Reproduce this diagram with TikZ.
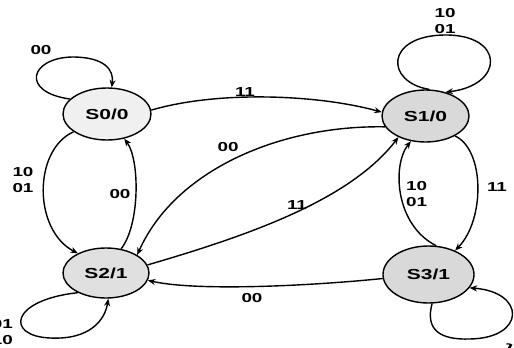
\documentclass[tikz,border=0pt]{standalone}
\usepackage{fontspec}
\setmainfont{Liberation Sans}
\newfontfamily\wfont[FakeStretch=1.45]{Liberation Sans}
\usetikzlibrary{shapes.geometric,arrows.meta}
\begin{document}
\begin{tikzpicture}[x=1pt,y=-1pt,
  state/.style={draw,ellipse,line width=1.4pt,inner sep=0pt,
    font=\wfont\fontsize{14.5}{16}\selectfont\bfseries},
  edge/.style={draw,line width=1.4pt,-{Stealth[length=7.5pt,width=6pt]}},
  lbl/.style={font=\wfont\fontsize{13}{15.5}\selectfont\bfseries,inner sep=0pt,align=center}]
\useasboundingbox[fill=white] (0,0) rectangle (514,348);

\node[state,fill=gray!12,minimum width=88pt,minimum height=52pt] (S0) at (107,114) {S0/0};
\node[state,fill=gray!30,minimum width=87pt,minimum height=52pt] (S1) at (425.5,116) {S1/0};
\node[state,fill=gray!24,minimum width=86pt,minimum height=50pt] (S2) at (106,273) {S2/1};
\node[state,fill=gray!30,minimum width=91pt,minimum height=57pt] (S3) at (428.5,274.5) {S3/1};

% S0 self loop
\draw[edge] (S0.158) .. controls (20,92) and (30,58) .. (72,57)
  .. controls (105,57) and (114,70) .. (S0.80);
\node[lbl] (l1) at (41,50) {00};

% S0 -> S1
\draw[edge] (S0.5) .. controls (220,90) and (320,95) .. (S1.175);
\node[lbl] (l2) at (245,92) {11};

% S1 -> S2
\draw[edge] (S1.195) .. controls (280,125) and (175,170) .. (S2.30);
\node[lbl] (l3) at (228,147) {00};

% S2 -> S1
\draw[edge] (S2.11) .. controls (250,235) and (350,200) .. (S1.218);
\node[lbl] (l4) at (297,205) {11};

% S0 -> S2
\draw[edge] (S0.208) .. controls (33,150) and (33,230) .. (S2.145);
\node[lbl] (l5) at (23,180) {10\\01};

% S2 -> S0
\draw[edge] (S2.58) .. controls (140,225) and (140,160) .. (S0.305);
\node[lbl] (l6) at (120,194) {00};

% S1 self loop
\draw[edge] (S1.82) .. controls (385,82) and (385,36) .. (444,35)
  .. controls (505,34) and (505,85) .. (S1.50);
\node[lbl] (l7) at (445,21) {10\\01};

% S1 -> S3
\draw[edge] (S1.326) .. controls (485,150) and (485,220) .. (S3.42);
\node[lbl] (l8) at (497,187) {11};

% S3 -> S1
\draw[edge] (S3.75) .. controls (395,225) and (392,165) .. (S1.240);
\node[lbl,align=left,anchor=west] (l9) at (406,194) {10\\01};

% S3 -> S2
\draw[edge] (S3.185) .. controls (320,285) and (200,292) .. (S2.350);
\node[lbl] (l10) at (252,298) {00};

% S2 self loop
\draw[edge] (S2.215) .. controls (10,300) and (5,336) .. (50,338)
  .. controls (90,340) and (105,320) .. (S2.275);
\node[lbl,align=right,anchor=east] (l11) at (13,332) {01\\10};

% S3 self loop
\draw[edge] (S3.277) .. controls (425,330) and (440,340) .. (470,339)
  .. controls (526,338) and (526,292) .. (S3.342);
\node[lbl,rotate=-30] (l12) at (513,351) {11};
\end{tikzpicture}
\end{document}
